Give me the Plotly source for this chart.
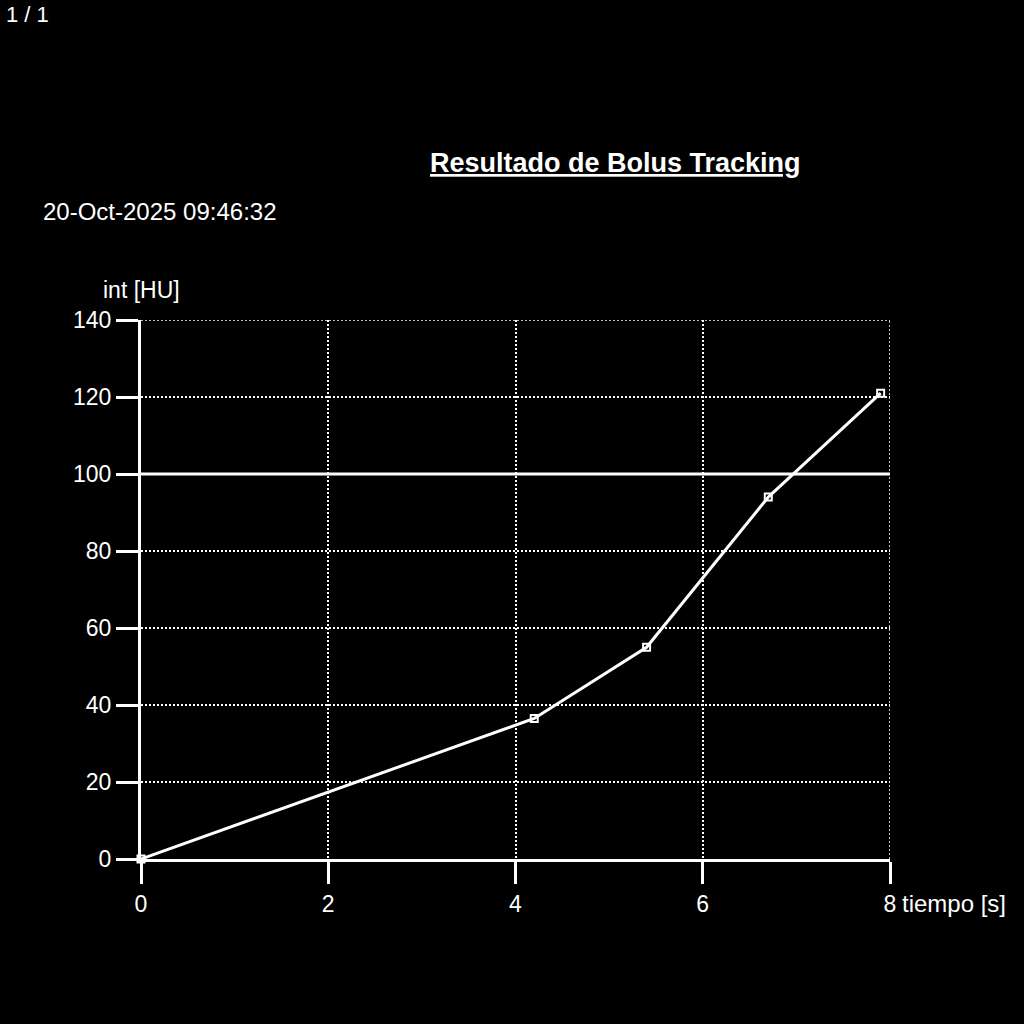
import plotly.graph_objects as go

# Bolus tracking curve
tiempo = [0, 4.2, 5.4, 6.7, 7.9]
intensidad = [0, 36.5, 55, 94, 121]
umbral = 100

x_ticks = [0, 2, 4, 6, 8]
y_ticks = [0, 20, 40, 60, 80, 100, 120, 140]

titulo = "Resultado de Bolus Tracking"
fecha = "20-Oct-2025 09:46:32"
pagina = "1 / 1"

FONT = "Liberation Sans, Arial, sans-serif"
GRID_DASH = "2px,2px"

fig = go.Figure(go.Scatter(x=tiempo,
                           y=intensidad,
                           mode="lines+markers",
                           line=dict(color="white", width=3),
                           marker=dict(symbol="square-open", size=7,
                                       color="white", line=dict(width=2, color="white")),
                           cliponaxis=False,
                           showlegend=False))

# threshold line
fig.add_shape(type="line", xref="x", yref="y",
              x0=x_ticks[0], x1=x_ticks[-1], y0=umbral, y1=umbral,
              line=dict(color="white", width=3))

# plotly drops the grid lines on the far edges, put them back
fig.add_shape(type="line", xref="x", yref="y", layer="below",
              x0=x_ticks[0], x1=x_ticks[-1], y0=y_ticks[-1], y1=y_ticks[-1],
              line=dict(color="white", width=1.5, dash=GRID_DASH))
fig.add_shape(type="line", xref="x", yref="y", layer="below",
              x0=x_ticks[-1], x1=x_ticks[-1], y0=y_ticks[0], y1=y_ticks[-1],
              line=dict(color="white", width=1.5, dash=GRID_DASH))

axis_style = dict(showline=True, linecolor="white", linewidth=3,
                  ticks="outside", ticklen=22, tickwidth=3, tickcolor="white",
                  showgrid=True, gridcolor="white", gridwidth=1.5, griddash=GRID_DASH,
                  zeroline=False, mirror=False,
                  tickfont=dict(family=FONT, size=23, color="white"))

fig.update_xaxes(range=[0, 8], tickvals=x_ticks, **axis_style)
fig.update_yaxes(range=[0, 140], tickvals=y_ticks, **axis_style)

ann = [
    dict(text=titulo, x=0.634, y=1.291, xanchor="center", yanchor="middle",
         font=dict(family=FONT, size=27, color="white", weight="bold", lineposition="under")),
    dict(text=fecha, x=-0.133, y=1.202, xanchor="left", yanchor="middle",
         font=dict(family=FONT, size=24, color="white")),
    dict(text="int [HU]", x=-0.054, y=1.056, xanchor="left", yanchor="middle",
         font=dict(family=FONT, size=23, color="white")),
    dict(text="tiempo [s]", x=1.014, y=-0.083, xanchor="left", yanchor="middle",
         font=dict(family=FONT, size=24, color="white")),
    dict(text=pagina, x=-0.183, y=1.567, xanchor="left", yanchor="middle",
         font=dict(family=FONT, size=22, color="white")),
]
for a in ann:
    fig.add_annotation(xref="paper", yref="paper", showarrow=False, **a)

fig.update_layout(width=1024, height=1024,
                  paper_bgcolor="black", plot_bgcolor="black",
                  margin=dict(l=141, r=134, t=320, b=165),
                  font=dict(family=FONT, color="white"))

fig.write_html("out.html",
               config={"displayModeBar": False},
               post_script="document.body.style.margin='0';document.body.style.background='black';")
